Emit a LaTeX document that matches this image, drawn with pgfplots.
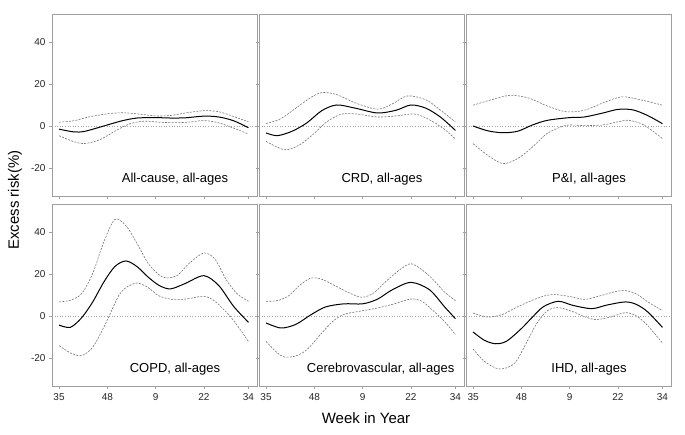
\documentclass[border=0pt]{standalone}
\usepackage{fontspec}
\setmainfont{Liberation Sans}
\usepackage{pgfplots}
\pgfplotsset{compat=1.18}

\pgfplotsset{
  panel/.style={
    scale only axis, width=205pt, height=182pt,
    anchor=south west,
    xmin=-1.9, xmax=53.3, ymin=-33.3, ymax=53.3,
    xtick={0,13,26,39,51}, xticklabels={35,48,9,22,34},
    ytick={-20,0,20,40}, yticklabels={-20,0,20,40},
    tick align=outside, tick pos=left, major tick length=3pt,
    axis line style={gray!75, line width=0.8pt},
    tick style={gray!75, line width=0.6pt},
    tick label style={font=\fontsize{10}{12}\selectfont, text=black!85},
    xticklabel style={yshift=-1pt},
    clip=true,
  },
  notopx/.style={xticklabels={}},
  noleft/.style={yticklabels={}},
  est/.style={black, line width=1pt, smooth},
  ci/.style={black!55, line width=0.6pt, dash pattern=on 2pt off 1.3pt, smooth},
  zero/.style={gray!70, line width=0.6pt, dotted},
}
\newcommand{\zeroline}{\addplot[zero] coordinates {(-1.9,0) (53.3,0)};}
\newcommand{\plab}[1]{\node[font=\fontsize{13}{15}\selectfont] at (rel axis cs:0.6,0.09) {#1};}

\begin{document}
\begin{tikzpicture}
\path[use as bounding box] (0,0) rectangle (685pt,435pt);

% ---- top row ----
\begin{axis}[panel, notopx, at={(52pt,239pt)}]
\zeroline
\addplot[ci] coordinates {(0,1.8) (4,2.5) (8,4.3) (13,5.8) (17,6.3) (21,5.8) (26,4.8) (30,5.0) (34,6.2) (39,7.3) (43,6.8) (47,4.5) (51,2.0)};
\addplot[ci] coordinates {(0,-4.6) (4,-7.5) (7,-8.3) (11,-6.5) (15,-2.5) (19,1.0) (23,2.3) (28,1.7) (34,1.7) (39,2.6) (43,1.5) (47,-1.0) (51,-3.8)};
\addplot[est] coordinates {(0,-1.5) (4,-2.8) (7,-2.5) (13,0.5) (17,2.5) (21,3.8) (26,4.0) (30,3.8) (34,3.9) (39,4.7) (43,4.3) (47,2.5) (51,-0.8)};
\plab{All-cause, all-ages}
\end{axis}

\begin{axis}[panel, notopx, noleft, at={(259pt,239pt)}]
\zeroline
\addplot[ci] coordinates {(0,1.2) (4,3.5) (8,8.5) (12,13.5) (15,15.9) (19,15.0) (24,11.0) (30,8.0) (34,10.5) (38,14.3) (43,12.5) (47,7.5) (51,1.9)};
\addplot[ci] coordinates {(0,-7.3) (5,-11.3) (9,-9.0) (13,-3.5) (16,1.5) (20,5.5) (24,5.8) (30,4.3) (35,4.8) (40,5.7) (44,3.0) (48,-1.5) (51,-6.2)};
\addplot[est] coordinates {(0,-3.3) (3,-4.6) (7,-2.5) (11,1.5) (15,7.3) (19,10.0) (24,8.5) (30,6.2) (35,7.5) (39,10.0) (43,8.5) (47,4.2) (51,-2.1)};
\plab{CRD, all-ages}
\end{axis}

\begin{axis}[panel, notopx, noleft, at={(466pt,239pt)}]
\zeroline
\addplot[ci] coordinates {(0,9.9) (5,12.5) (10,14.6) (15,13.3) (20,9.5) (25,6.8) (30,7.5) (35,11.0) (40,13.9) (45,12.5) (51,9.9)};
\addplot[ci] coordinates {(0,-8.4) (4,-14.0) (8,-17.9) (12,-15.5) (16,-10.0) (20,-3.5) (25,0.3) (30,0.2) (35,0.5) (39,2.0) (42,2.7) (46,0.5) (51,-6.0)};
\addplot[est] coordinates {(0,0) (4,-2.3) (8,-3.2) (12,-2.5) (16,0.5) (20,2.7) (26,4.0) (30,4.3) (35,6.2) (39,7.9) (43,7.7) (47,5.0) (51,1.1)};
\plab{P\&I, all-ages}
\end{axis}

% ---- bottom row ----
\begin{axis}[panel, at={(52pt,49pt)}]
\zeroline
\addplot[ci] coordinates {(0,6.7) (3,7.5) (6,10.5) (9,20.0) (12,35.0) (15,45.9) (18,43.0) (21,34.5) (24,25.0) (27,19.5) (29,18.1) (32,19.5) (35,25.0) (39,30.0) (42,27.0) (45,17.3) (48,10.5) (51,7.0)};
\addplot[ci] coordinates {(0,-14.1) (3,-17.5) (6,-18.9) (9,-15.0) (12,-5.5) (14,2.0) (16,9.5) (18,13.5) (21,15.7) (24,13.5) (27,9.5) (31,7.8) (35,8.3) (39,9.4) (42,7.0) (46,0) (49,-7.0) (51,-12.1)};
\addplot[est] coordinates {(0,-4.3) (3,-5.4) (6,-1.0) (9,6.5) (12,16.0) (15,23.5) (18,26.2) (21,23.5) (24,18.5) (27,14.5) (30,12.9) (34,15.5) (39,19.2) (43,14.5) (47,4.6) (51,-3.0)};
\plab{COPD, all-ages}
\end{axis}

\begin{axis}[panel, noleft, at={(259pt,49pt)}]
\zeroline
\addplot[ci] coordinates {(0,7.0) (3,7.3) (6,9.5) (9,14.5) (12,18.0) (15,17.5) (19,14.0) (23,10.5) (26,8.9) (29,11.0) (32,16.0) (36,22.0) (39,24.9) (42,22.0) (45,17.3) (48,11.5) (51,7.3)};
\addplot[ci] coordinates {(0,-12.1) (3,-17.5) (5,-19.5) (8,-19.0) (11,-16.0) (15,-8.1) (18,-2.5) (21,0.8) (25,2.2) (30,3.8) (35,6.0) (39,8.1) (42,7.0) (45,2.5) (48,-2.5) (51,-8.9)};
\addplot[est] coordinates {(0,-3.3) (4,-5.7) (8,-4.0) (12,0.5) (16,4.3) (21,5.8) (26,5.8) (30,8.0) (34,12.5) (39,16.0) (44,12.5) (48,4.5) (51,-1.3)};
\node[font=\fontsize{13}{15}\selectfont, anchor=east] at (rel axis cs:0.97,0.09) {Cerebrovascular, all-ages};
\end{axis}

\begin{axis}[panel, noleft, at={(466pt,49pt)}]
\zeroline
\addplot[ci] coordinates {(0,1.4) (4,-0.5) (8,0.8) (11,3.5) (15,6.8) (19,9.5) (22,10.2) (26,9.3) (30,7.9) (34,9.5) (38,11.5) (41,12.1) (44,10.5) (47,6.8) (51,2.5)};
\addplot[ci] coordinates {(0,-15.7) (3,-21.5) (7,-25.2) (11,-22.8) (14,-14.0) (17,-4.0) (20,2.5) (23,4.0) (27,2.0) (30,-0.3) (33,-1.7) (37,-0.5) (41,1.6) (44,0) (47,-4.5) (51,-12.9)};
\addplot[est] coordinates {(0,-7.6) (3,-11.5) (6,-13.2) (9,-12.0) (13,-6.0) (16,-0.5) (19,4.5) (23,7.0) (27,5.0) (32,3.5) (36,5.2) (41,6.7) (44,5.5) (47,2.0) (51,-5.4)};
\plab{IHD, all-ages}
\end{axis}

\node[font=\fontsize{15}{18}\selectfont, rotate=90] at (15pt,235pt) {Excess risk(\%)};
\node[font=\fontsize{15}{18}\selectfont] at (366pt,17pt) {Week in Year};
\end{tikzpicture}
\end{document}
